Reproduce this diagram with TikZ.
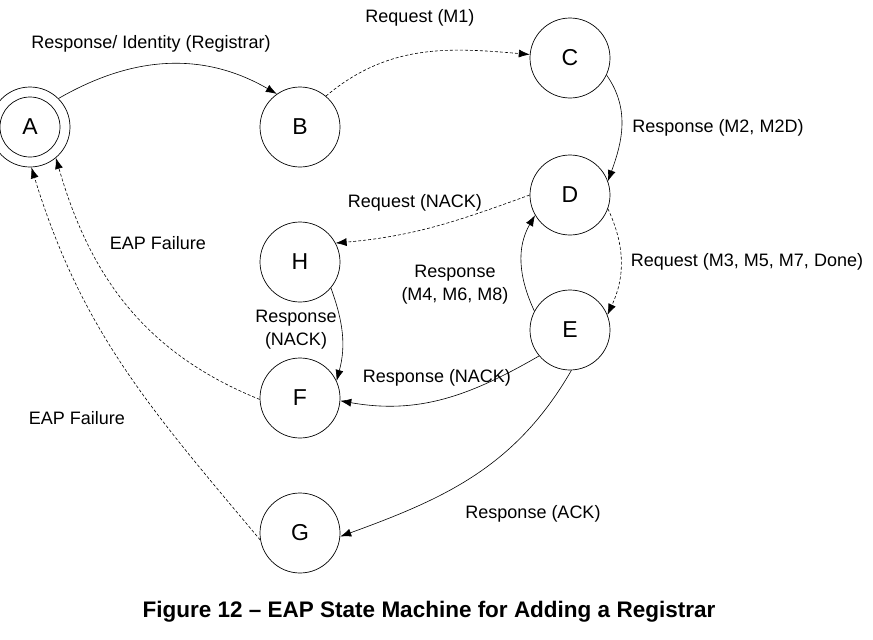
\documentclass[tikz,border=0pt]{standalone}
\usepackage{fontspec}
\setmainfont{Liberation Sans}
\usetikzlibrary{arrows.meta}
\begin{document}
\begin{tikzpicture}[x=1pt,y=1pt,
 state/.style={circle,draw,line width=0.7pt,minimum size=80pt,inner sep=0pt,font=\fontsize{23}{23}\selectfont},
 lbl/.style={font=\fontsize{18}{23}\selectfont,align=center,inner sep=0pt},
 tr/.style={line width=0.6pt,-{Latex[length=11pt,width=8pt]}},
 dtr/.style={tr,dash pattern=on 3pt off 2pt}]
\useasboundingbox (0,0) rectangle (873,-640);
\node[state] (A) at (30,-127) {};
\node[state,minimum size=60pt] (Ai) at (A) {A};
\node[state] (B) at (300,-127) {B};
\node[state] (C) at (570,-58) {C};
\node[state] (D) at (570,-195) {D};
\node[state] (E) at (570,-330) {E};
\node[state] (H) at (300,-262) {H};
\node[state] (F) at (300,-398) {F};
\node[state] (G) at (300,-533) {G};

\draw[tr] (A.45) to[out=30,in=150] (B.125);
\draw[dtr] (B.50) to[out=40,in=175] (C.175);
\draw[tr] (C.-25) to[out=-55,in=70] (D.20);
\draw[dtr] (D.-20) to[out=-65,in=65] (E.22);
\draw[tr] (E.152) to[out=115,in=-120] (D.-150);
\draw[dtr] (D.180) to[out=200,in=5] (H.28);
\draw[tr] (H.-40) to[out=-70,in=75] (F.25);
\draw[tr] (E.-140) to[out=-150,in=-10] (F.-4);
\draw[tr] (E.-88) to[out=-120,in=20] (G.-5);
\draw[dtr] (F.182) to[out=158,in=-74] (A.-50);
\draw[dtr] (G.190) to[out=130,in=-73] (A.-88);

\node[lbl] (l1) at (151,-44) {Response/ Identity (Registrar)};
\node[lbl] (l2) at (420,-18) {Request (M1)};
\node[lbl] (l3) at (718,-128) {Response (M2, M2D)};
\node[lbl] (l4) at (747,-262) {Request (M3, M5, M7, Done)};
\node[lbl] (l5) at (415,-203) {Request (NACK)};
\node[lbl] (l6) at (158,-243) {EAP Failure};
\node[lbl] (l7) at (455,-285) {Response\\(M4, M6, M8)};
\node[lbl] (l8) at (296,-330) {Response\\(NACK)};
\node[lbl] (l9) at (437,-378) {Response (NACK)};
\node[lbl] (l10) at (77,-418) {EAP Failure};
\node[lbl] (l11) at (533,-514) {Response (ACK)};
\node[font=\fontsize{22.5}{24}\selectfont\bfseries,inner sep=0pt] (cap) at (429,-612) {Figure 12 – EAP State Machine for Adding a Registrar};
\end{tikzpicture}
\end{document}
